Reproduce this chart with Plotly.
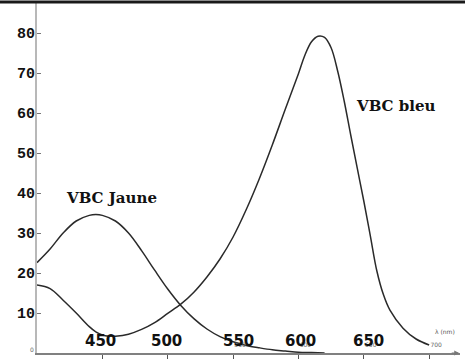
import plotly.graph_objects as go

# ---- data ----
wl_jaune = [400, 410, 420, 430, 440, 445, 450, 460, 470, 480, 490, 500, 510, 520,
            530, 540, 550, 560, 570, 580, 590, 600, 610, 620]
val_jaune = [22.6, 26.0, 30.0, 33.0, 34.4, 34.6, 34.4, 33.0, 30.0, 25.6, 20.7, 16.0,
             11.9, 8.6, 6.0, 4.1, 2.8, 1.9, 1.3, 0.8, 0.5, 0.2, 0.1, 0.0]

wl_bleu = [400, 410, 420, 430, 440, 445, 450, 455, 460, 470, 480, 490, 500, 510, 520,
           530, 540, 550, 560, 570, 580, 590, 600, 605, 610, 615, 620, 625, 630, 635,
           640, 645, 650, 655, 660, 665, 670, 680, 690, 700]
val_bleu = [17.0, 16.1, 13.2, 10.0, 6.6, 5.3, 4.5, 4.2, 4.2, 4.7, 5.9, 7.6, 9.9, 12.2,
            15.2, 19.0, 23.5, 29.0, 35.8, 43.5, 52.0, 61.0, 69.8, 74.5, 77.8, 79.2,
            78.9, 76.3, 70.5, 63.0, 54.5, 46.2, 38.0, 29.3, 20.5, 14.6, 10.7, 6.2, 3.5, 2.0]

y_ticks = [10, 20, 30, 40, 50, 60, 70, 80]
x_ticks = [450, 500, 550, 600, 650, 700]
x_small_text = ["", "", "550", "600", "650", "700"]
big_labels = ["450", "500", "550", "600", "650"]
big_label_pos = [450, 500, 550, 600, 650]
big_label_shift = [-2, -1, 5, 2, 5]

W, H = 465, 361
ML, MR, MT, MB = 37, 5, 2, 8
pw = W - ML - MR
ph = H - MT - MB

fig = go.Figure()
for xs, ys in [(wl_jaune, val_jaune), (wl_bleu, val_bleu)]:
    fig.add_trace(go.Scatter(x=xs, y=ys, mode="lines",
                             line=dict(color="#2a2a2a", width=1.5, shape="spline", smoothing=1.0),
                             showlegend=False, hoverinfo="skip"))

ann = []
for t, xv, sh in zip(big_labels, big_label_pos, big_label_shift):
    ann.append(dict(x=xv, y=0, xref="x", yref="y", text=t, showarrow=False,
                    xshift=sh, yshift=12, yanchor="middle",
                    font=dict(family="DejaVu Sans", size=15, color="#111", weight="bold")))
ann.append(dict(x=457, y=38.8, xref="x", yref="y", text="VBC Jaune", showarrow=False,
                font=dict(family="DejaVu Serif", size=15, color="#111", weight="bold")))
ann.append(dict(x=674, y=61.8, xref="x", yref="y", text="VBC bleu", showarrow=False,
                font=dict(family="DejaVu Serif", size=15, color="#111", weight="bold")))
ann.append(dict(x=712, y=5.5, xref="x", yref="y", text="λ (nm)", showarrow=False,
                font=dict(family="DejaVu Sans", size=6, color="#555")))
ann.append(dict(x=400, y=0, xref="x", yref="y", text="0", showarrow=False,
                xshift=-5, yshift=4, font=dict(family="DejaVu Sans", size=6, color="#666")))
ann.append(dict(x=723, y=0, xref="x", yref="y", text="", showarrow=True,
                ax=-9, ay=0, axref="pixel", ayref="pixel",
                arrowhead=2, arrowsize=1, arrowwidth=1, arrowcolor="#777"))

fig.update_layout(
    width=W, height=H,
    margin=dict(l=ML, r=MR, t=MT, b=MB, autoexpand=False),
    paper_bgcolor="white", plot_bgcolor="white",
    xaxis=dict(range=[400, 723.6], showgrid=False, zeroline=False, automargin=False,
               showline=True, linecolor="#808080", linewidth=1.5,
               ticks="outside", ticklen=4, tickcolor="#555", tickwidth=1,
               tickvals=x_ticks, ticktext=x_small_text,
               ticklabelposition="inside right",
               tickfont=dict(family="DejaVu Sans", size=6, color="#666")),
    yaxis=dict(range=[0, ph / 4.0], showgrid=False, zeroline=False, automargin=False,
               showline=True, linecolor="#b8b8b8", linewidth=2,
               ticks="inside", ticklen=4, tickcolor="#777", tickwidth=1,
               tickvals=y_ticks, ticklabelstandoff=-3,
               tickfont=dict(family="Liberation Mono", size=15, color="#111", weight="bold")),
    annotations=ann,
    shapes=[dict(type="line", xref="paper", yref="paper",
                 x0=-ML / pw, x1=(W - ML) / pw, y0=1.0, y1=1.0,
                 line=dict(color="#1a1a1a", width=3))],
)

fig.write_html("out.html", config={"displayModeBar": False},
               post_script="document.body.style.margin='0';document.body.style.overflow='hidden';")
